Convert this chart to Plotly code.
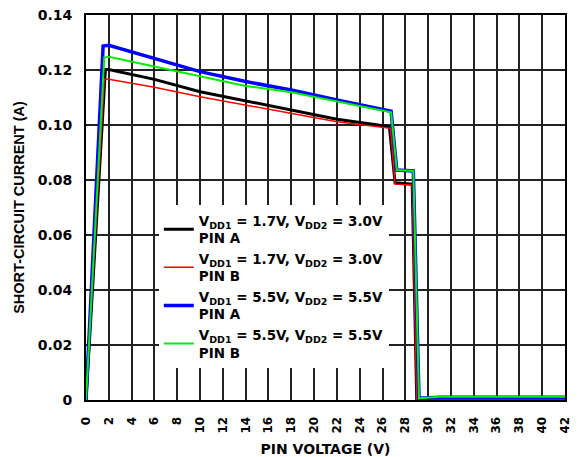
import plotly.graph_objects as go

# Data
v_black = [0, 1.7, 2.0, 6, 10, 14, 18, 22, 26.6, 27.1, 28.6, 29.0, 42]
i_black = [0, 0.1202, 0.1202, 0.1166, 0.1121, 0.1087, 0.1055, 0.1021, 0.0994, 0.0790, 0.0785, 0.0, 0.0]

v_red = [0, 1.6, 2.0, 6, 10, 14, 18, 22, 26.7, 27.1, 28.6, 29.0, 42]
i_red = [0, 0.1166, 0.1166, 0.1137, 0.1103, 0.1073, 0.1042, 0.1012, 0.0988, 0.0785, 0.0782, 0.0, 0.0]

v_blue = [0, 1.5, 2.0, 6, 10, 14, 18, 22, 26.75, 27.25, 28.7, 29.2, 31, 42]
i_blue = [0, 0.1287, 0.1290, 0.1242, 0.1194, 0.1158, 0.1127, 0.1091, 0.1050, 0.0836, 0.0833, 0.0006, 0.0010, 0.0010]

v_green = [0, 1.6, 2.0, 6, 10, 14, 18, 22, 26.75, 27.25, 28.7, 29.2, 31, 42]
i_green = [0, 0.1245, 0.1248, 0.1212, 0.1178, 0.1142, 0.1119, 0.1085, 0.1046, 0.0836, 0.0833, 0.0006, 0.0012, 0.0012]

names = [
    "<b>V<sub>DD1</sub> = 1.7V, V<sub>DD2</sub> = 3.0V<br>PIN A</b>",
    "<b>V<sub>DD1</sub> = 1.7V, V<sub>DD2</sub> = 3.0V<br>PIN B</b>",
    "<b>V<sub>DD1</sub> = 5.5V, V<sub>DD2</sub> = 5.5V<br>PIN A</b>",
    "<b>V<sub>DD1</sub> = 5.5V, V<sub>DD2</sub> = 5.5V<br>PIN B</b>",
]

x_ticks = list(range(0, 43, 2))
y_ticks = [0, 0.02, 0.04, 0.06, 0.08, 0.10, 0.12, 0.14]
y_tick_text = ["0", "0.02", "0.04", "0.06", "0.08", "0.10", "0.12", "0.14"]

WIDE = "DejaVu Sans, Verdana, sans-serif"
ARIAL = "Liberation Sans, Arial, sans-serif"

fig = go.Figure()
series = [
    (v_black, i_black, "#000000", 3),
    (v_red, i_red, "#ff0000", 1.5),
    (v_blue, i_blue, "#0000ff", 3.5),
    (v_green, i_green, "#00ee00", 2),
]
for (xv, yv, col, w), nm in zip(series, names):
    fig.add_trace(go.Scatter(x=xv, y=yv, mode="lines", name=nm,
                             line=dict(color=col, width=w)))

fig.update_layout(
    width=579, height=449,
    margin=dict(l=78, r=22, t=7, b=57, autoexpand=False),
    paper_bgcolor="white", plot_bgcolor="white",
    font=dict(family=WIDE, color="black", size=12),
    legend=dict(x=0.152, y=0.506, xanchor="left", yanchor="top",
                bgcolor="white", borderwidth=0,
                font=dict(family=WIDE, size=13.5, color="black"),
                tracegroupgap=0, itemwidth=30),
    showlegend=True,
)
fig.update_xaxes(
    range=[0, 42], tickvals=x_ticks, ticktext=[f"<b>{t}</b>" for t in x_ticks],
    tickangle=-90, tickfont=dict(size=12, family=WIDE), ticklabelstandoff=10,
    ticklabeloverflow="allow",
    showgrid=True, gridcolor="#222222", gridwidth=1.5,
    showline=True, linecolor="black", linewidth=2, mirror=True,
    zeroline=False, ticks="",
    title=dict(text="<b>PIN VOLTAGE (V)</b>", font=dict(size=14, family=WIDE), standoff=12),
)
fig.update_yaxes(
    range=[0, 0.14], tickvals=y_ticks, ticktext=[f"<b>{t}</b>" for t in y_tick_text],
    tickfont=dict(size=14, family=WIDE), ticklabelstandoff=9,
    ticklabeloverflow="allow",
    showgrid=True, gridcolor="#222222", gridwidth=1.5,
    showline=True, linecolor="black", linewidth=2, mirror=True,
    zeroline=False, ticks="",
    title=dict(text="<b>SHORT-CIRCUIT CURRENT (A)</b>", font=dict(size=14.5, family=ARIAL), standoff=10),
)

fig.write_html("out.html")
